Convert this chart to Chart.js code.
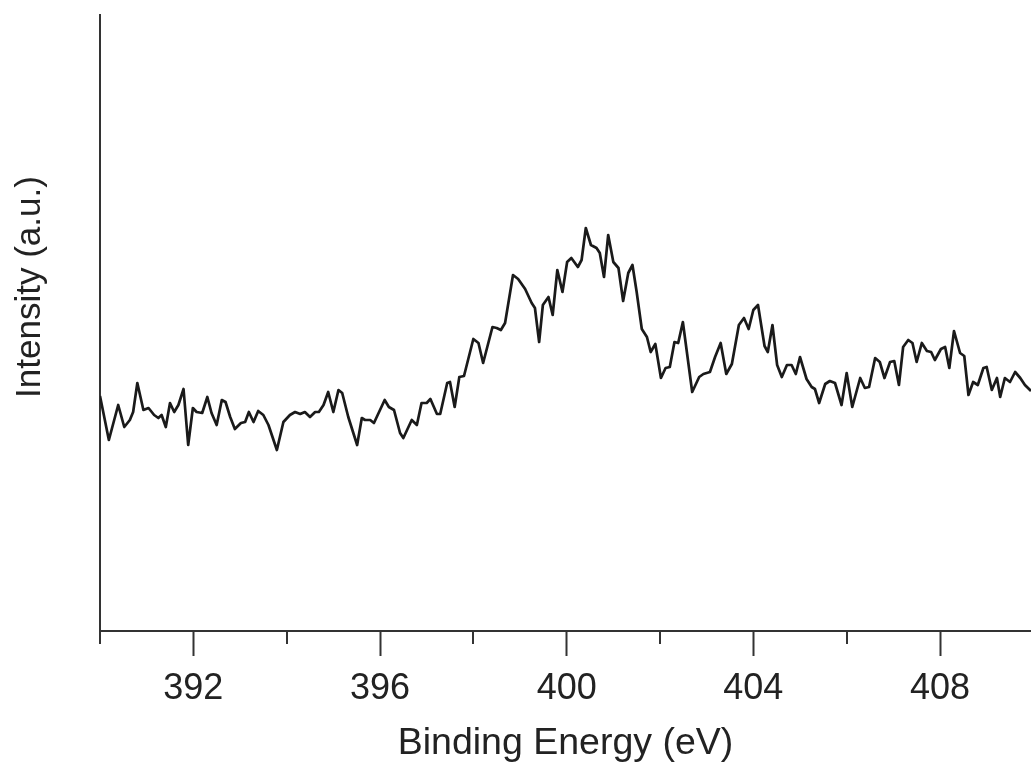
<!DOCTYPE html>
<html>
<head>
<meta charset="utf-8">
<title>XPS spectrum</title>
<script src="https://cdn.jsdelivr.net/npm/chart.js@4.4.1/dist/chart.umd.min.js"></script>
<style>
  html, body { margin: 0; padding: 0; background: #ffffff; }
  canvas { display: block; }
</style>
</head>
<body>
<canvas id="spectrum" width="1031" height="767"></canvas>
<script>
// Binding energy (eV) of each recorded point
const energy = [
  390.00, 390.19, 390.39, 390.52, 390.64, 390.71, 390.80, 390.93, 391.04, 391.16,
  391.25, 391.32, 391.41, 391.50, 391.59, 391.68, 391.79, 391.89, 391.99, 392.07,
  392.19, 392.30, 392.39, 392.50, 392.61, 392.69, 392.79, 392.89, 393.02, 393.11,
  393.19, 393.29, 393.39, 393.50, 393.61, 393.79, 393.93, 394.07, 394.18, 394.29,
  394.39, 394.50, 394.61, 394.69, 394.79, 394.89, 395.00, 395.11, 395.19, 395.32,
  395.51, 395.61, 395.68, 395.79, 395.87, 396.10, 396.19, 396.30, 396.43, 396.50,
  396.68, 396.79, 396.89, 397.00, 397.08, 397.22, 397.29, 397.44, 397.50, 397.60,
  397.70, 397.80, 398.00, 398.11, 398.21, 398.41, 398.50, 398.59, 398.68, 398.85,
  398.96, 399.11, 399.25, 399.32, 399.41, 399.49, 399.61, 399.70, 399.80, 399.91,
  400.01, 400.10, 400.24, 400.32, 400.41, 400.52, 400.64, 400.71, 400.80, 400.89,
  401.00, 401.11, 401.21, 401.32, 401.41, 401.50, 401.61, 401.72, 401.80, 401.90,
  402.02, 402.12, 402.21, 402.31, 402.39, 402.49, 402.69, 402.84, 402.93, 403.07,
  403.18, 403.30, 403.42, 403.54, 403.69, 403.80, 403.90, 404.00, 404.10, 404.24,
  404.31, 404.41, 404.51, 404.61, 404.72, 404.82, 404.91, 405.00, 405.14, 405.25,
  405.32, 405.41, 405.54, 405.64, 405.75, 405.89, 406.00, 406.12, 406.29, 406.39,
  406.48, 406.61, 406.71, 406.81, 406.93, 407.02, 407.12, 407.21, 407.32, 407.41,
  407.50, 407.61, 407.72, 407.81, 407.89, 408.02, 408.11, 408.20, 408.30, 408.43,
  408.52, 408.61, 408.71, 408.81, 408.93, 409.00, 409.11, 409.22, 409.29, 409.39,
  409.50, 409.61, 409.72, 409.82, 409.95
];

// Measured N 1s intensity (arbitrary units)
const intensity = [
  235, 191, 226, 204, 211, 219, 248, 221, 223, 216,
  213, 216, 204, 228, 219, 226, 242, 186, 223, 219,
  218, 234, 218, 206, 231, 229, 214, 202, 208, 209,
  219, 209, 220, 216, 206, 181, 209, 216, 219, 217,
  219, 214, 219, 219, 226, 239, 219, 241, 238, 214,
  186, 213, 211, 211, 208, 231, 224, 221, 198, 193,
  211, 206, 228, 228, 232, 217, 217, 248, 249, 224,
  254, 255, 292, 288, 268, 304, 303, 301, 308, 356,
  352, 342, 328, 323, 289, 326, 334, 316, 361, 339,
  369, 373, 364, 371, 403, 386, 383, 378, 354, 396,
  369, 363, 330, 358, 366, 339, 302, 294, 279, 287,
  253, 263, 264, 289, 288, 309, 239, 254, 257, 259,
  274, 288, 257, 267, 306, 313, 302, 321, 326, 285,
  279, 306, 266, 254, 266, 266, 257, 274, 252, 244,
  242, 228, 247, 250, 248, 226, 258, 224, 253, 243,
  244, 273, 269, 253, 269, 270, 246, 284, 291, 288,
  269, 288, 280, 279, 271, 282, 284, 263, 300, 278,
  275, 236, 249, 246, 263, 264, 241, 253, 234, 253,
  249, 259, 253, 246, 240
];

// Axis ticks: every 2 eV, with labels on every other one
const tickValues = [390, 392, 394, 396, 398, 400, 402, 404, 406, 408];
const labeledTicks = [392, 396, 400, 404, 408];

const xTitle = 'Binding Energy (eV)';
const yTitle = 'Intensity (a.u.)';

const axisColor = '#333333';
const textColor = '#222222';
const fontFamily = "'Liberation Sans', Arial, Helvetica, sans-serif";

// Short unlabeled ticks between the labeled ones
const minorTickPlugin = {
  id: 'minorTicks',
  afterDraw(chart) {
    const scale = chart.scales.x;
    const ctx = chart.ctx;
    ctx.save();
    ctx.strokeStyle = axisColor;
    ctx.lineWidth = 2;
    tickValues.filter(v => !labeledTicks.includes(v)).forEach(v => {
      const px = Math.round(scale.getPixelForValue(v));
      ctx.beginPath();
      ctx.moveTo(px, scale.top);
      ctx.lineTo(px, scale.top + 13);
      ctx.stroke();
    });
    ctx.restore();
  }
};

// Vertical axis title, set a little above the middle of the axis
const yTitlePlugin = {
  id: 'yTitle',
  afterDraw(chart) {
    const area = chart.chartArea;
    const ctx = chart.ctx;
    ctx.save();
    ctx.translate(30, (area.top + area.bottom) / 2 - 36);
    ctx.rotate(-Math.PI / 2);
    ctx.font = '35px ' + fontFamily;
    ctx.fillStyle = textColor;
    ctx.textAlign = 'center';
    ctx.textBaseline = 'middle';
    ctx.fillText(yTitle, 0, 0);
    ctx.restore();
  }
};

new Chart(document.getElementById('spectrum'), {
  type: 'line',
  data: {
    datasets: [{
      data: energy.map((e, i) => ({ x: e, y: intensity[i] })),
      borderColor: '#1a1a1a',
      borderWidth: 2.7,
      pointRadius: 0,
      tension: 0,
      borderJoinStyle: 'round',
      fill: false
    }]
  },
  options: {
    responsive: false,
    animation: false,
    devicePixelRatio: 1,
    layout: { padding: { top: 15, left: 0, right: 0, bottom: 0 } },
    plugins: {
      legend: { display: false },
      tooltip: { enabled: false }
    },
    scales: {
      x: {
        type: 'linear',
        min: 390,
        max: 409.95,
        afterBuildTicks: scale => {
          scale.ticks = tickValues.map(v => ({ value: v }));
        },
        afterFit: scale => { scale.height = 136; },
        border: { display: true, color: axisColor, width: 2 },
        grid: {
          display: true,
          drawOnChartArea: false,
          drawTicks: true,
          tickLength: 25,
          tickWidth: 2,
          tickColor: ctx => (ctx.tick && labeledTicks.includes(ctx.tick.value)) ? axisColor : 'rgba(0,0,0,0)'
        },
        ticks: {
          autoSkip: false,
          maxRotation: 0,
          padding: 11,
          color: textColor,
          font: { family: fontFamily, size: 36 },
          callback: v => labeledTicks.includes(v) ? String(v) : ''
        },
        title: {
          display: true,
          text: xTitle,
          color: textColor,
          font: { family: fontFamily, size: 37.5 },
          padding: { top: 0, bottom: 1 }
        }
      },
      y: {
        type: 'linear',
        min: 0,
        max: 616,
        afterFit: scale => { scale.width = 100; },
        border: { display: true, color: axisColor, width: 2 },
        grid: { display: true, drawOnChartArea: false, drawTicks: false },
        ticks: { display: false },
        title: { display: false }
      }
    }
  },
  plugins: [minorTickPlugin, yTitlePlugin]
});
</script>
</body>
</html>
